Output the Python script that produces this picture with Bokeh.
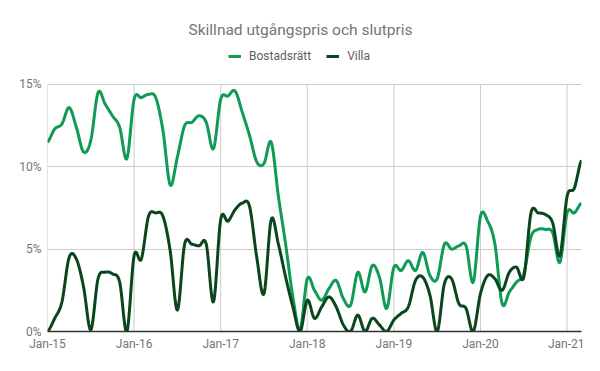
import numpy as np
from bokeh.plotting import figure
from bokeh.models import Range1d, FixedTicker, Legend, LegendItem, ColumnDataSource, Label
from bokeh.embed import file_html
from bokeh.resources import INLINE

# ---- data (monthly, Jan-15 .. Mar-21) ----
title_text = "Skillnad utgångspris och slutpris"
series_names = ["Bostadsrätt", "Villa"]

bostadsratt = [
    11.5, 12.3, 12.6, 13.6, 12.4, 10.9, 11.6, 14.5, 13.8, 13.1, 12.4, 10.5,   # 2015
    14.1, 14.2, 14.4, 14.2, 12.2, 8.9, 10.6, 12.5, 12.7, 13.1, 12.7, 11.1,    # 2016
    14.1, 14.3, 14.6, 13.3, 11.9, 10.3, 10.2, 11.5, 8.2, 5.3, 2.1, 0.1,       # 2017
    3.2, 2.5, 1.9, 2.6, 3.1, 2.0, 1.6, 3.6, 2.4, 4.0, 3.3, 1.4,               # 2018
    3.9, 3.7, 4.3, 3.7, 4.8, 3.4, 3.2, 5.3, 5.0, 5.2, 5.2, 3.0,               # 2019
    7.0, 6.7, 5.3, 1.7, 2.4, 3.0, 3.5, 5.75, 6.2, 6.2, 6.0, 4.2,              # 2020
    7.2, 7.2, 7.8,                                                            # 2021
]
villa = [
    0.0, 0.8, 1.8, 4.5, 4.4, 2.7, 0.1, 3.2, 3.6, 3.5, 3.0, 0.0,               # 2015
    4.6, 4.4, 7.0, 7.2, 7.0, 4.9, 1.3, 5.3, 5.3, 5.2, 5.3, 1.8,               # 2016
    6.8, 6.7, 7.4, 7.8, 7.6, 4.5, 2.3, 6.8, 5.3, 3.3, 1.5, 0.0,               # 2017
    1.9, 0.8, 1.5, 2.1, 1.5, 0.4, 0.0, 1.0, 0.0, 0.8, 0.4, 0.0,               # 2018
    0.7, 1.1, 1.5, 3.1, 3.3, 2.2, 0.0, 2.9, 3.2, 1.7, 1.4, 0.0,               # 2019
    2.3, 3.4, 3.2, 2.5, 3.6, 3.9, 3.3, 7.2, 7.2, 7.1, 6.6, 4.6,               # 2020
    8.2, 8.7, 10.4,                                                           # 2021
]
month_index = list(range(len(villa)))

x_tick_positions = [0, 12, 24, 36, 48, 60, 72]
x_tick_labels = ["Jan-15", "Jan-16", "Jan-17", "Jan-18", "Jan-19", "Jan-20", "Jan-21"]
y_tick_values = [0, 5, 10, 15]
y_tick_labels = ["0%", "5%", "10%", "15%"]

colors = ["#0f9a55", "#0b451c"]
FONT = "Roboto"


def smooth(xs, ys, steps=14):
    """Cubic Hermite (Catmull-Rom) rendering of the monthly points."""
    xs = np.asarray(xs, float)
    ys = np.asarray(ys, float)
    n = len(ys)
    out_x, out_y = [xs[0]], [ys[0]]
    t = np.linspace(0, 1, steps + 1)[1:]
    h00 = 2 * t**3 - 3 * t**2 + 1
    h10 = t**3 - 2 * t**2 + t
    h01 = -2 * t**3 + 3 * t**2
    h11 = t**3 - t**2
    for i in range(n - 1):
        p0 = ys[max(i - 1, 0)]
        p1, p2 = ys[i], ys[i + 1]
        p3 = ys[min(i + 2, n - 1)]
        m1 = (p2 - p0) / 2.0
        m2 = (p3 - p1) / 2.0
        out_y.extend(h00 * p1 + h10 * m1 + h01 * p2 + h11 * m2)
        out_x.extend(xs[i] + t * (xs[i + 1] - xs[i]))
    return out_x, out_y


y_max = max(y_tick_values)
# frame spans the full canvas height above the x axis; the value axis tops out at 15 %
p = figure(
    width=584, height=355,
    output_backend="svg", toolbar_location=None,
    x_range=Range1d(0, month_index[-1]), y_range=Range1d(0, 20.1),
    min_border_left=47, min_border_right=3, min_border_top=0, min_border_bottom=24,
)
p.outline_line_color = None
p.background_fill_color = "white"
p.border_fill_color = "white"

# vertical grid lines, only over the value area
p.segment(x0=x_tick_positions, y0=[0] * len(x_tick_positions),
          x1=x_tick_positions, y1=[y_max] * len(x_tick_positions),
          line_color="#cccccc", line_width=1)
p.xgrid.visible = False
p.ygrid.ticker = FixedTicker(ticks=y_tick_values)
p.ygrid.bounds = (-1, 30)
p.ygrid.grid_line_color = "#cccccc"

renderers = []
for name, ys, col in zip(series_names, [bostadsratt, villa], colors):
    sx, sy = smooth(month_index, ys)
    src = ColumnDataSource(dict(x=sx, y=np.clip(sy, 0, None)))
    r = p.line("x", "y", source=src, line_color=col, line_width=3, line_join="round")
    renderers.append((name, r))

# axes
for ax in (p.xaxis, p.yaxis):
    ax.major_tick_line_color = None
    ax.minor_tick_line_color = None
    ax.major_tick_out = 0
    ax.major_tick_in = 0
    ax.minor_tick_out = 0
    ax.minor_tick_in = 0
    ax.major_label_text_font = FONT
    ax.major_label_text_font_size = "12px"
    ax.major_label_text_color = "#757575"

p.xaxis.ticker = FixedTicker(ticks=x_tick_positions)
p.xaxis.major_label_overrides = {k: v for k, v in zip(x_tick_positions, x_tick_labels)}
p.xaxis.axis_line_color = "#333333"
p.xaxis.axis_line_width = 1.5
p.xaxis.major_label_standoff = 5

p.yaxis.ticker = FixedTicker(ticks=y_tick_values)
p.yaxis.major_label_overrides = {k: v for k, v in zip(y_tick_values, y_tick_labels)}
p.yaxis.axis_line_color = None
p.yaxis.major_label_standoff = 6

# title
p.add_layout(Label(
    x=35.06, y=18.32, text=title_text, text_align="center", text_baseline="alphabetic",
    text_font=FONT, text_font_size="15.5px", text_color="#757575",
))

# legend
legend = Legend(
    items=[LegendItem(label=n, renderers=[r]) for n, r in renderers],
    orientation="horizontal", location=(181, 268),
    border_line_color=None, background_fill_alpha=0,
    padding=0, margin=0, spacing=15,
    glyph_width=13, glyph_height=12, label_height=12, label_standoff=8,
    label_text_font=FONT, label_text_font_size="12px", label_text_color="#5f5f5f",
)
p.add_layout(legend)

open("out.html", "w").write(file_html(p, INLINE))
